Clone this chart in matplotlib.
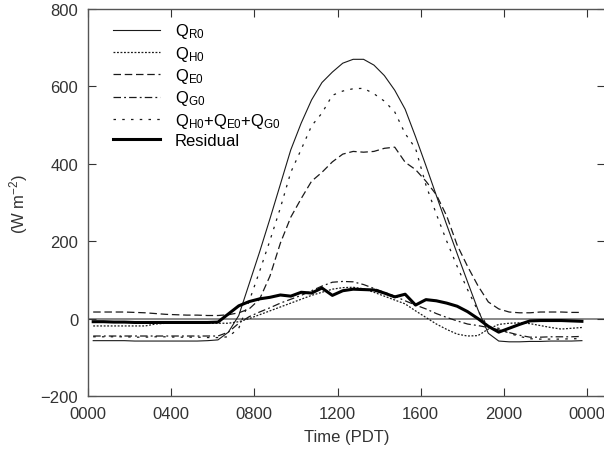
import matplotlib
matplotlib.use("Agg")
import matplotlib.pyplot as plt
import numpy as np

plt.rcParams['font.family'] = ['Liberation Sans', 'DejaVu Sans']
plt.rcParams['mathtext.fontset'] = 'custom'
plt.rcParams['mathtext.rm'] = 'Liberation Sans'
plt.rcParams['mathtext.it'] = 'Liberation Sans'
plt.rcParams['mathtext.default'] = 'regular'

# half-hourly values (h, PDT), W m-2
hours = [0.25 + 0.5 * i for i in range(48)]

q_r0 = [-57, -57, -57, -57, -58, -58, -58, -58, -58, -58, -58, -57,
        -55, -35, 8, 90, 172, 258, 347, 436, 505, 565, 610, 637,
        660, 670, 670, 655, 628, 590, 541, 470, 395, 318, 242, 168,
        95, 23, -38, -58, -60, -60, -59, -59, -58, -58, -58, -57]

q_h0 = [-19, -19, -19, -19, -19, -19, -14, -12, -12, -12, -12, -12,
        -12, -12, -8, 0, 10, 20, 30, 40, 50, 60, 68, 76,
        80, 81, 77, 68, 58, 48, 38, 20, 3, -14, -28, -40,
        -45, -44, -27, -15, -12, -11, -13, -18, -23, -27, -25, -23]

q_e0 = [17, 17, 17, 17, 16, 15, 13, 11, 10, 9, 9, 8,
        8, 10, 15, 25, 50, 110, 195, 262, 310, 355, 378, 405,
        425, 432, 430, 432, 440, 443, 404, 385, 355, 320, 265, 190,
        135, 85, 43, 25, 17, 15, 15, 17, 17, 17, 16, 16]

q_g0 = [-45, -45, -45, -45, -45, -45, -45, -45, -45, -45, -45, -45,
        -45, -35, -12, 5, 17, 28, 40, 50, 60, 72, 84, 94,
        96, 95, 88, 78, 68, 58, 46, 35, 25, 13, 3, -6,
        -14, -18, -23, -29, -36, -43, -48, -48, -47, -47, -47, -46]

q_sum = [-47, -47, -47, -47, -48, -48, -47, -47, -48, -48, -48, -49,
         -49, -47, -25, 45, 122, 202, 286, 378, 437, 498, 531, 577,
         588, 594, 595, 581, 562, 534, 478, 440, 345, 270, 200, 135,
         75, 20, -22, -25, -38, -46, -52, -53, -53, -53, -52, -52]

residual = [-8, -8, -9, -9, -10, -10, -10, -10, -10, -10, -10, -10,
            -9, 12, 33, 44, 51, 55, 61, 58, 68, 66, 79, 60,
            72, 76, 75, 74, 66, 56, 63, 35, 49, 46, 40, 32,
            18, 0, -20, -35, -25, -15, -6, -5, -5, -5, -6, -7]

xtick_pos = [0, 4, 8, 12, 16, 20, 24]
xtick_labels = ['0000', '0400', '0800', '1200', '1600', '2000', '0000']

fig = plt.figure(figsize=(6.04, 4.64), dpi=100)
ax = fig.add_axes([88 / 604, 1 - 397 / 464, 1 - 88 / 604 + 0.002, 387 / 464])

ax.axhline(0, color='#808080', lw=1.3, zorder=1)

c = '#1a1a1a'
ax.plot(hours, q_r0, color=c, lw=0.8, ls='-', label='Q$_{R0}$')
ax.plot(hours, q_h0, color=c, lw=0.9, ls=(0, (1.5, 1.3)), label='Q$_{H0}$')
ax.plot(hours, q_e0, color=c, lw=0.9, ls=(0, (6, 3)), label='Q$_{E0}$')
ax.plot(hours, q_g0, color=c, lw=0.9, ls=(0, (6, 2.5, 1.5, 2.5)), label='Q$_{G0}$')
ax.plot(hours, q_sum, color=c, lw=0.9, ls=(0, (2, 5)),
        label='Q$_{H0}$+Q$_{E0}$+Q$_{G0}$')
ax.plot(hours, residual, color='black', lw=2.2, ls='-', label='Residual')

ax.set_xlim(0, 24.87)
ax.set_ylim(-200, 800)
ax.set_xticks(xtick_pos)
ax.set_xticklabels(xtick_labels)
ax.set_yticks([-200, 0, 200, 400, 600, 800])
ax.set_yticklabels(['\u2212200', '0', '200', '400', '600', '800'])
ax.tick_params(direction='in', top=True, right=True, length=6, width=0.8,
               labelsize=12, colors='#333333', pad=7)
for s in ax.spines.values():
    s.set_color('#555555')
    s.set_linewidth(1.0)

ax.set_xlabel('Time (PDT)', fontsize=12, color='#333333', labelpad=6)
ax.set_ylabel('(W m$^{-2}$)', fontsize=12, color='#333333', labelpad=8)

leg = ax.legend(loc='upper left', bbox_to_anchor=(25 / 516, 0.968), frameon=False,
                fontsize=12, handlelength=2.8, handletextpad=0.9,
                labelspacing=0.2, borderpad=0, borderaxespad=0)

fig.savefig('out.png', dpi=100)
